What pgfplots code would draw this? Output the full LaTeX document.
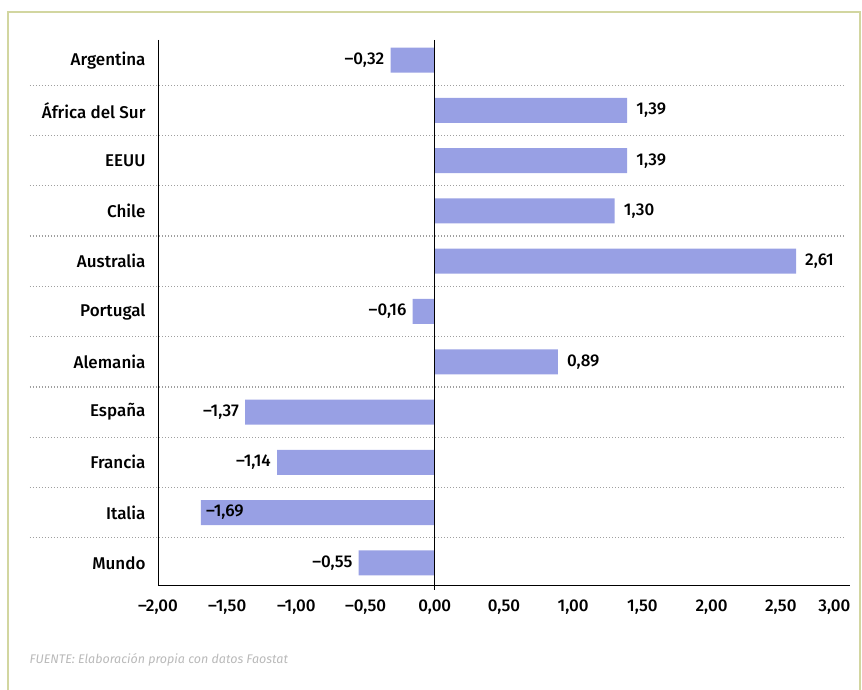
\documentclass[border=0pt]{standalone}
\usepackage{fontspec}
\setmainfont{Fira Sans}
\newfontfamily\medfont{Fira Sans Medium}
\usepackage{pgfplots}
\pgfplotsset{compat=1.18}
\definecolor{barc}{RGB}{152,160,228}
\definecolor{framec}{RGB}{210,214,160}
\begin{document}
\begin{tikzpicture}[x=1pt,y=1pt]
\useasboundingbox (0,0) rectangle (862,690);
\draw[framec, line width=2pt] (8,-5) -- (8,678) -- (860,678) -- (860,-5);
\begin{axis}[
  at={(158pt,105pt)}, anchor=south west,
  scale only axis, width=692pt, height=545pt,
  xmin=-2, xmax=3, ymin=-0.4, ymax=10.44, y dir=reverse,
  axis x line*=bottom, axis y line*=left,
  axis line style={black, line width=1pt, -},
  xtick={-2,-1.5,...,2.5},
  xticklabels={{–2,00},{–1,50},{–1,00},{–0,50},{0,00},{0,50},{1,00},{1,50},{2,00},{2,50}},
  extra x ticks={3},
  extra x tick style={xticklabel={3{,}00}, xticklabel style={anchor=north east, xshift=4pt}},
  ytick={0,...,10},
  yticklabels={Argentina, África del Sur, EEUU, Chile, Australia, Portugal, Alemania, España, Francia, Italia, Mundo},
  major tick length=0pt,
  tick label style={font=\medfont\fontsize{17}{20}\selectfont, text=black},
  xticklabel style={yshift=-11pt},
  yticklabel style={xshift=-9pt},
  clip=false,
]
\pgfplotsinvokeforeach{0.5,1.5,...,9.5}{
  \draw[gray!75, line width=1.2pt, dash pattern=on 1pt off 2pt] ([xshift=-128pt]axis cs:-2,#1) -- (axis cs:2.96,#1);
}
\addplot[xbar, bar width=25pt, bar shift=0pt, fill=barc, draw=none] table[x=x, y=y] {
x y
-0.32 0
1.39 1
1.39 2
1.30 3
2.61 4
-0.16 5
0.89 6
-1.37 7
-1.14 8
-1.69 9
-0.55 10
};
\draw[black, line width=1pt] (axis cs:0,-0.4) -- ([yshift=-5pt]axis cs:0,10.44);
% positive labels
\addplot[draw=none, mark=none, nodes near coords, point meta=explicit symbolic,
  every node near coord/.append style={anchor=west, xshift=9pt, inner sep=0pt, font=\medfont\fontsize{17}{20}\selectfont}]
  table[x=x, y=y, meta=lab] {
x y lab
1.39 1 1,39
1.39 2 1,39
1.30 3 1,30
2.61 4 2,61
0.89 6 0,89
};
% negative labels
\addplot[draw=none, mark=none, nodes near coords, point meta=explicit symbolic,
  every node near coord/.append style={anchor=east, xshift=-6pt, inner sep=0pt, font=\medfont\fontsize{17}{20}\selectfont}]
  table[x=x, y=y, meta=lab] {
x y lab
-0.32 0 –0,32
-0.16 5 –0,16
-1.37 7 –1,37
-1.14 8 –1,14
-0.55 10 –0,55
};
% label inside bar
\addplot[draw=none, mark=none, nodes near coords, point meta=explicit symbolic,
  every node near coord/.append style={anchor=west, xshift=5pt, inner sep=0pt, font=\medfont\fontsize{17}{20}\selectfont}]
  table[x=x, y=y, meta=lab] {
x y lab
-1.69 9 –1,69
};
\end{axis}
\node[anchor=west, text=gray!55, font=\itshape\fontsize{12.5}{14}\selectfont] at (26,30) {FUENTE: Elaboración propia con datos Faostat};
\end{tikzpicture}
\end{document}
